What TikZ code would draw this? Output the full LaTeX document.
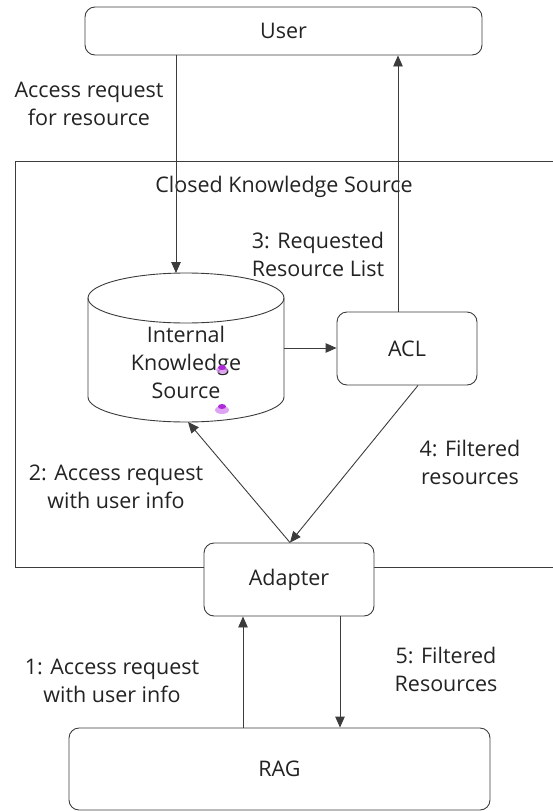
\documentclass[tikz,border=0pt]{standalone}
\usepackage{fontspec}
\setmainfont{Open Sans}
\usetikzlibrary{arrows.meta}
\definecolor{ink}{RGB}{35,35,35}
\definecolor{edge}{RGB}{60,60,60}
\definecolor{blobdark}{RGB}{175,40,215}
\definecolor{bloblight}{RGB}{215,140,240}

\begin{document}
\begin{tikzpicture}[x=1pt,y=-1pt,
  every node/.style={text=ink, font=\fontsize{21.5}{28}\selectfont, align=center},
  box/.style={draw=edge, line width=0.9pt, rounded corners=10pt, fill=white, inner sep=0pt},
  conn/.style={draw=edge, line width=0.9pt},
  arr/.style={conn, -{Triangle[length=11pt,width=9.5pt]}}]
\useasboundingbox (0,0) rectangle (553,811);

% outer frame of the closed knowledge source (runs off the right edge)
\draw[conn] (560,161) -- (15,161) -- (15,567) -- (560,567);
\node (cks) at (284,187) {Closed Knowledge Source};

% main boxes
\node[box, minimum width=397pt, minimum height=48pt] (user) at (283.5,31) {User};
\node[box, minimum width=140pt, minimum height=73pt] (acl) at (407,348.5) {ACL};
\node[box, minimum width=170pt, minimum height=73pt] (adapter) at (289,579.5) {Adapter};
\node[box, minimum width=421pt, minimum height=82pt] (rag) at (279.5,769) {RAG};

% internal knowledge source drawn as a cylinder
\draw[conn, fill=white] (88,298) -- (88,397) arc[start angle=180, end angle=360, x radius=98pt, y radius=25pt] -- (284,298);
\draw[conn] (186,298) ellipse[x radius=98pt, y radius=25pt];
\node (iks) at (186,362) {Internal\\Knowledge\\Source};
\coordinate (iks top) at (176,273);
\coordinate (iks right) at (284,348);
\coordinate (iks bottom) at (188,422);

% small purple marks on the cylinder
\fill[bloblight, opacity=0.8] (222,370) ellipse[x radius=6pt, y radius=3.5pt];
\fill[blobdark] (222,367.5) ellipse[x radius=4pt, y radius=2.5pt];
\fill[bloblight, opacity=0.8] (222,410) ellipse[x radius=7pt, y radius=4pt];
\fill[blobdark] (222,406.5) ellipse[x radius=4pt, y radius=2.5pt];

% attachment points on the boxes
\coordinate (acl up) at ([xshift=-9pt]acl.north);
\coordinate (acl down) at ([xshift=11pt]acl.south);
\coordinate (adapter up) at ([xshift=1pt]adapter.north);
\coordinate (adapter left) at ([xshift=-46pt]adapter.south);
\coordinate (adapter right) at ([xshift=51pt]adapter.south);

% connectors
\draw[arr] (user.south -| iks top) -- (iks top);
\draw[arr] (acl up) -- (user.south -| acl up);
\draw[arr] (iks right) -- (acl.west |- iks right);
\draw[arr] (adapter up) -- (iks bottom);
\draw[arr] (acl down) -- (adapter up);
\draw[arr] (rag.north -| adapter left) -- (adapter left);
\draw[arr] (adapter right) -- (rag.north -| adapter right);

% labels
\node (l0) at (89,104) {Access request\\for resource};
\node (l3) at (318,254) {3: Requested\\Resource List};
\node (l2) at (116,487) {2: Access request\\with user info};
\node (l4) at (470,462) {4: Filtered\\resources};
\node (l1) at (112,681) {1: Access request\\with user info};
\node (l5) at (446,669) {5: Filtered\\Resources};
\end{tikzpicture}
\end{document}
